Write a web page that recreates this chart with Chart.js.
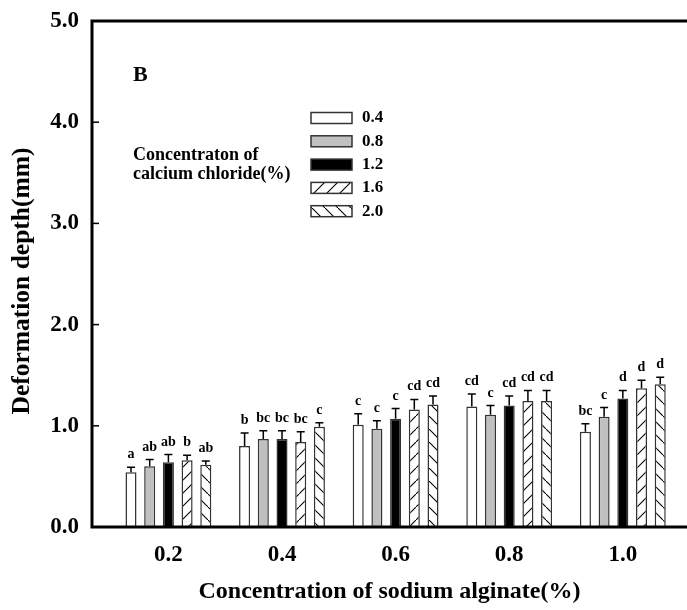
<!DOCTYPE html>
<html>
<head>
<meta charset="utf-8">
<script src="https://cdn.jsdelivr.net/npm/chart.js@4.4.1/dist/chart.umd.min.js"></script>
<style>
  html, body { margin: 0; padding: 0; background: #fff; overflow: hidden; }
</style>
</head>
<body>
<canvas id="deformChart" width="687" height="610"></canvas>
<script>
// sodium alginate levels (x axis) and calcium chloride levels (series)
const sodiumLevels = [0.2, 0.4, 0.6, 0.8, 1.0];
const calciumLevels = ['0.4', '0.8', '1.2', '1.6', '2.0'];

// deformation depth (mm), one array per calcium chloride level
const depthCa04 = [0.54, 0.80, 1.01, 1.19, 0.94];
const depthCa08 = [0.60, 0.87, 0.97, 1.11, 1.09];
const depthCa12 = [0.64, 0.87, 1.07, 1.20, 1.27];
const depthCa16 = [0.66, 0.84, 1.16, 1.245, 1.37];
const depthCa20 = [0.615, 0.99, 1.21, 1.245, 1.41];

// error bar sizes
const errCa04 = [0.05, 0.13, 0.11, 0.125, 0.08];
const errCa08 = [0.066, 0.08, 0.08, 0.09, 0.09];
const errCa12 = [0.076, 0.08, 0.10, 0.095, 0.08];
const errCa16 = [0.05, 0.10, 0.10, 0.105, 0.08];
const errCa20 = [0.036, 0.04, 0.085, 0.105, 0.07];

// significance letters
const lettersCa04 = ['a', 'b', 'c', 'cd', 'bc'];
const lettersCa08 = ['ab', 'bc', 'c', 'c', 'c'];
const lettersCa12 = ['ab', 'bc', 'c', 'cd', 'd'];
const lettersCa16 = ['b', 'bc', 'cd', 'cd', 'd'];
const lettersCa20 = ['ab', 'c', 'cd', 'cd', 'd'];

const yTicks = [0, 1, 2, 3, 4, 5];

const serif = '"Liberation Serif", "Times New Roman", serif';

// hatch patterns for the 1.6 and 2.0 bars
function makeHatch(forward) {
    const size = 13;
    const c = document.createElement('canvas');
    c.width = size;
    c.height = size;
    const g = c.getContext('2d');
    g.fillStyle = '#fff';
    g.fillRect(0, 0, size, size);
    g.strokeStyle = '#000';
    g.lineWidth = 1.1;
    g.beginPath();
    if (forward) {
        g.moveTo(-1, size + 1); g.lineTo(size + 1, -1);
    } else {
        g.moveTo(-1, -1); g.lineTo(size + 1, size + 1);
    }
    g.stroke();
    return g.createPattern(c, 'repeat');
}

const series = [
    { values: depthCa04, errors: errCa04, letters: lettersCa04, fill: '#ffffff' },
    { values: depthCa08, errors: errCa08, letters: lettersCa08, fill: '#c0c0c0' },
    { values: depthCa12, errors: errCa12, letters: lettersCa12, fill: '#000000' },
    { values: depthCa16, errors: errCa16, letters: lettersCa16, fill: makeHatch(true) },
    { values: depthCa20, errors: errCa20, letters: lettersCa20, fill: makeHatch(false) }
];

// error bars, letters, frame, inner ticks, legend and notes
const extrasPlugin = {
    id: 'extras',
    afterDatasetsDraw(chart) {
        const ctx = chart.ctx;
        const yScale = chart.scales.y;
        const area = chart.chartArea;
        ctx.save();

        // error bars + letters
        series.forEach((s, i) => {
            const meta = chart.getDatasetMeta(i);
            meta.data.forEach((bar, j) => {
                const top = bar.y;
                const errTop = yScale.getPixelForValue(s.values[j] + s.errors[j]);
                ctx.strokeStyle = '#000';
                ctx.lineWidth = 1.5;
                ctx.beginPath();
                ctx.moveTo(bar.x, top);
                ctx.lineTo(bar.x, errTop);
                ctx.moveTo(bar.x - 4, errTop);
                ctx.lineTo(bar.x + 4, errTop);
                ctx.stroke();

                ctx.fillStyle = '#000';
                ctx.font = 'bold 14px ' + serif;
                ctx.textAlign = 'center';
                ctx.textBaseline = 'alphabetic';
                ctx.fillText(s.letters[j], bar.x, errTop - 9);
            });
        });

        // frame: left, bottom and top lines
        ctx.strokeStyle = '#000';
        ctx.lineWidth = 3;
        ctx.beginPath();
        ctx.moveTo(chart.width, area.top);
        ctx.lineTo(area.left, area.top);
        ctx.lineTo(area.left, area.bottom);
        ctx.lineTo(chart.width, area.bottom);
        ctx.stroke();

        // inward y ticks
        ctx.lineWidth = 1.5;
        yTicks.forEach(v => {
            const y = yScale.getPixelForValue(v);
            ctx.beginPath();
            ctx.moveTo(area.left, y);
            ctx.lineTo(area.left + 7, y);
            ctx.stroke();
        });

        // y axis title
        ctx.save();
        ctx.translate(22, 281);
        ctx.rotate(-Math.PI / 2);
        ctx.fillStyle = '#000';
        ctx.font = 'bold 25.5px ' + serif;
        ctx.textAlign = 'center';
        ctx.textBaseline = 'middle';
        ctx.fillText('Deformation depth(mm)', 0, 0);
        ctx.restore();

        // panel letter
        ctx.fillStyle = '#000';
        ctx.font = 'bold 22px ' + serif;
        ctx.textAlign = 'left';
        ctx.textBaseline = 'middle';
        ctx.fillText('B', 133, 75);

        // legend
        series.forEach((s, i) => {
            const cy = 118 + i * 23.3;
            ctx.fillStyle = s.fill;
            ctx.fillRect(311, cy - 5.5, 41, 11);
            ctx.strokeStyle = '#333';
            ctx.lineWidth = 1.5;
            ctx.strokeRect(311, cy - 5.5, 41, 11);
            ctx.fillStyle = '#000';
            ctx.font = 'bold 17px ' + serif;
            ctx.textAlign = 'left';
            ctx.textBaseline = 'middle';
            ctx.fillText(calciumLevels[i], 362, cy);
        });

        ctx.font = 'bold 18px ' + serif;
        ctx.fillText('Concentraton of', 133, 155);
        ctx.fillText('calcium chloride(%)', 133, 174);

        ctx.restore();
    }
};

const ctx = document.getElementById('deformChart').getContext('2d');
new Chart(ctx, {
    type: 'bar',
    data: {
        datasets: series.map((s, i) => ({
            label: calciumLevels[i],
            data: sodiumLevels.map((x, j) => ({ x: x, y: s.values[j] })),
            backgroundColor: s.fill,
            borderColor: '#333',
            borderWidth: 1.5,
            borderSkipped: 'bottom',
            categoryPercentage: 0.823,
            barPercentage: 0.59
        }))
    },
    options: {
        responsive: false,
        animation: false,
        layout: { padding: { top: 21, left: 0, right: 0, bottom: 0 } },
        plugins: {
            legend: { display: false },
            tooltip: { enabled: false }
        },
        scales: {
            x: {
                type: 'linear',
                offset: false,
                min: 0.0655,
                max: 1.113,
                afterFit: scale => {
                    scale.height = 83;
                    scale.paddingLeft = 0;
                    scale.paddingRight = 0;
                },
                afterBuildTicks: scale => {
                    scale.ticks = sodiumLevels.map(v => ({ value: v }));
                },
                grid: { display: false, offset: false, drawTicks: false },
                border: { display: false },
                ticks: {
                    color: '#000',
                    padding: 14,
                    font: { family: serif, size: 23, weight: 'bold' },
                    callback: v => Number(v).toFixed(1)
                },
                title: {
                    display: true,
                    text: 'Concentration of sodium alginate(%)',
                    color: '#000',
                    font: { family: serif, size: 24, weight: 'bold', lineHeight: 1.2 },
                    padding: { top: 0, bottom: 4 }
                }
            },
            y: {
                min: 0,
                max: 5,
                afterFit: scale => {
                    scale.width = 92;
                    scale.paddingTop = 0;
                    scale.paddingBottom = 0;
                },
                afterBuildTicks: scale => {
                    scale.ticks = yTicks.map(v => ({ value: v }));
                },
                grid: { display: false, drawTicks: false },
                border: { display: false },
                ticks: {
                    color: '#000',
                    padding: 13,
                    font: { family: serif, size: 23, weight: 'bold' },
                    callback: v => Number(v).toFixed(1)
                }
            }
        }
    },
    plugins: [extrasPlugin]
});
</script>
</body>
</html>
